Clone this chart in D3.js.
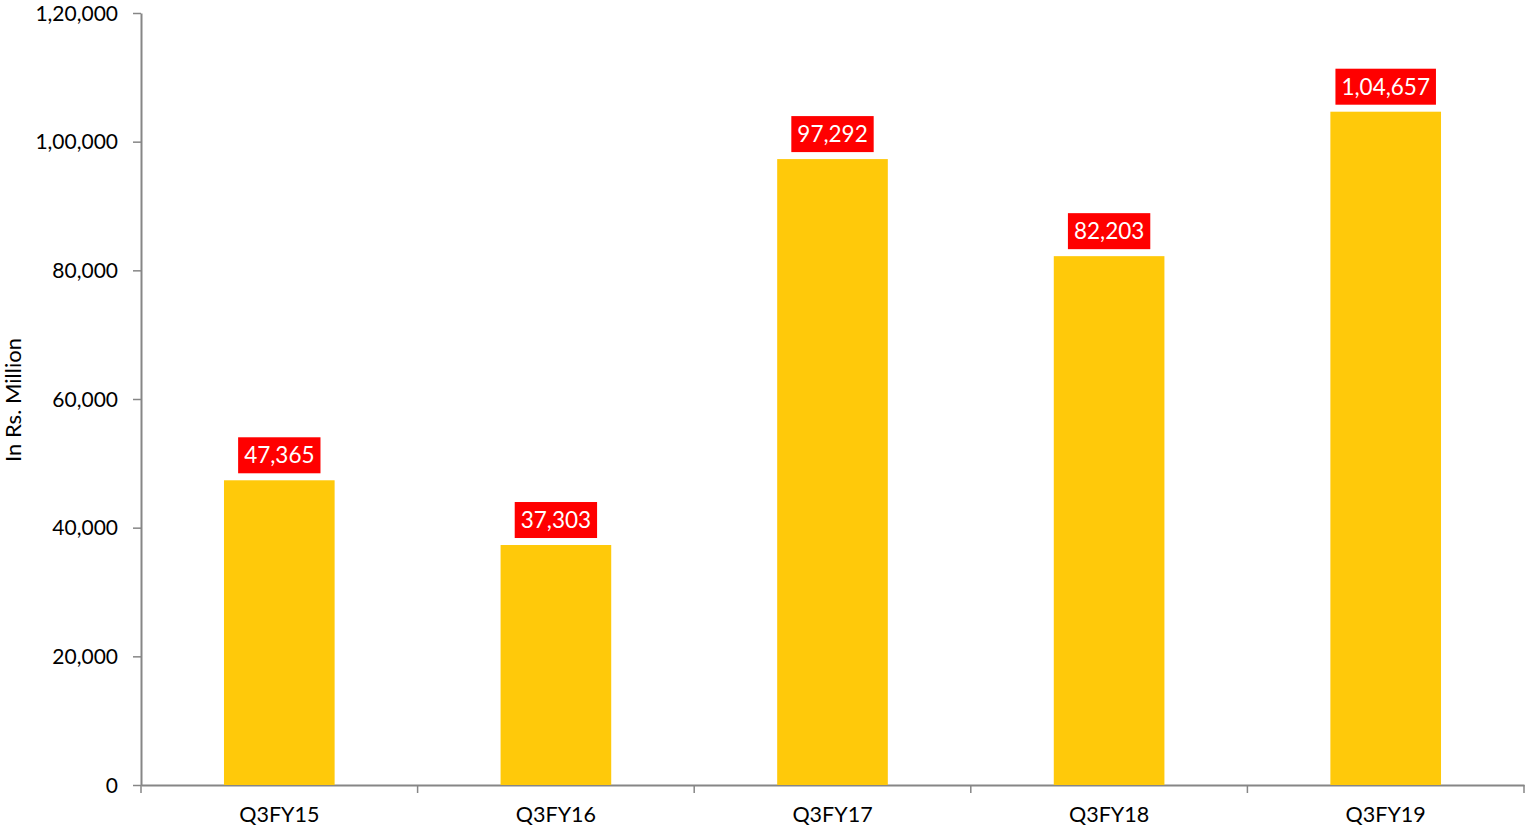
<!DOCTYPE html>
<html>
<head>
<meta charset="utf-8">
<script src="https://cdn.jsdelivr.net/npm/d3@7"></script>
<style>
  body { margin: 0; background: #fff; }
  text { font-family: Lato, "Open Sans", sans-serif; }
</style>
</head>
<body>
<div class="chart"></div>
<script>
// chart data
var quarters = ["Q3FY15", "Q3FY16", "Q3FY17", "Q3FY18", "Q3FY19"];
var revenue = [47365, 37303, 97292, 82203, 104657];
var yTicks = [0, 20000, 40000, 60000, 80000, 100000, 120000];
var yTitle = "In Rs. Million";

var svgWidth = 1527;
var svgHeight = 833;

var margin = { top: 13, right: 3, bottom: 48, left: 141 };
var width = svgWidth - margin.left - margin.right;
var height = svgHeight - margin.top - margin.bottom;

// indian digit grouping, e.g. 1,04,657
function inr(n) {
  var s = String(Math.round(n));
  if (s.length <= 3) return s;
  var last3 = s.slice(-3);
  var rest = s.slice(0, -3).replace(/\B(?=(\d{2})+(?!\d))/g, ",");
  return rest + "," + last3;
}

var svg = d3.select(".chart")
  .append("svg")
  .attr("width", svgWidth)
  .attr("height", svgHeight);

var chartGroup = svg.append("g")
  .attr("transform", `translate(${margin.left}, ${margin.top})`);

var xScale = d3.scaleBand()
  .domain(quarters)
  .range([0, width])
  .padding(0);

var yScale = d3.scaleLinear()
  .domain([0, 120000])
  .range([height, 0]);

var axisColor = "#868686";

// y axis
var leftAxis = d3.axisLeft(yScale)
  .tickValues(yTicks)
  .tickFormat(inr)
  .tickSizeInner(8)
  .tickSizeOuter(0)
  .tickPadding(15);

var yAxisG = chartGroup.append("g").call(leftAxis);
yAxisG.select(".domain").attr("stroke", axisColor).attr("stroke-width", 2);
yAxisG.selectAll(".tick line").attr("stroke", axisColor).attr("stroke-width", 1.5);
yAxisG.selectAll(".tick text")
  .attr("font-size", 21)
  .attr("dy", "0.34em")
  .attr("fill", "#000")
  .style("font-family", "Lato, 'Open Sans', sans-serif");

// x axis: line plus ticks at category boundaries
var bottomAxis = d3.axisBottom(xScale).tickSize(0).tickPadding(22);
var xAxisG = chartGroup.append("g")
  .attr("transform", `translate(0, ${height})`)
  .call(bottomAxis);
xAxisG.select(".domain").attr("stroke", axisColor).attr("stroke-width", 2);
xAxisG.selectAll(".tick text")
  .attr("font-size", 21.5)
  .attr("fill", "#000")
  .style("font-family", "Lato, 'Open Sans', sans-serif");

var boundaries = quarters.map(q => xScale(q)).concat([width]);
xAxisG.selectAll(".bound")
  .data(boundaries)
  .enter()
  .append("line")
  .attr("class", "bound")
  .attr("x1", d => d)
  .attr("x2", d => d)
  .attr("y1", 0)
  .attr("y2", 8)
  .attr("stroke", axisColor)
  .attr("stroke-width", 1.5);

// bars
var barW = xScale.bandwidth() * 0.4;
chartGroup.selectAll("rect.bar")
  .data(revenue)
  .enter()
  .append("rect")
  .attr("class", "bar")
  .attr("x", (d, i) => xScale(quarters[i]) + xScale.bandwidth() / 2 - barW / 2)
  .attr("y", d => yScale(d))
  .attr("width", barW)
  .attr("height", d => height - yScale(d))
  .attr("fill", "#FFC90A");

// value labels with red boxes
var labels = chartGroup.selectAll("g.lbl")
  .data(revenue)
  .enter()
  .append("g")
  .attr("class", "lbl")
  .attr("transform", (d, i) => `translate(${xScale(quarters[i]) + xScale.bandwidth() / 2}, ${yScale(d) - 7})`);

labels.append("text")
  .text(d => inr(d))
  .attr("text-anchor", "middle")
  .attr("y", -10)
  .attr("font-size", 22.5)
  .attr("fill", "#fff");

labels.each(function() {
  var g = d3.select(this);
  var bb = g.select("text").node().getBBox();
  g.insert("rect", "text")
    .attr("x", -bb.width / 2 - 6)
    .attr("y", -36)
    .attr("width", bb.width + 12)
    .attr("height", 36)
    .attr("fill", "#FF0000");
});

// y axis title
svg.append("text")
  .attr("transform", `translate(21, ${margin.top + height / 2 + 1}) rotate(-90)`)
  .attr("text-anchor", "middle")
  .attr("font-size", 22)
  .attr("fill", "#000")
  .text(yTitle);
</script>
</body>
</html>
